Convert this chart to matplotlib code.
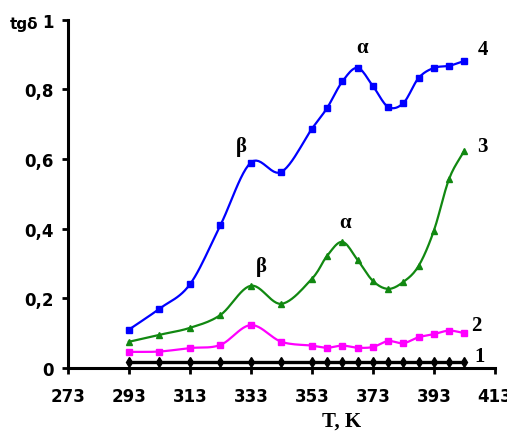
import matplotlib.pyplot as plt
import numpy as np

# temperature points (K)
temp = [293, 303, 313, 323, 333, 343, 353, 358, 363, 368, 373, 378, 383, 388, 393, 398, 403]

# tg delta, curves 1..4
curve1 = [0.017] * 17
curve2 = [0.046, 0.047, 0.057, 0.066, 0.123, 0.075, 0.064, 0.058, 0.064, 0.058,
          0.060, 0.077, 0.071, 0.088, 0.097, 0.107, 0.100]
curve3 = [0.075, 0.095, 0.115, 0.152, 0.236, 0.184, 0.256, 0.322, 0.362, 0.310,
          0.250, 0.227, 0.247, 0.293, 0.394, 0.543, 0.624]
curve4 = [0.11, 0.17, 0.24, 0.41, 0.59, 0.563, 0.687, 0.747, 0.823, 0.862,
          0.81, 0.75, 0.761, 0.833, 0.862, 0.868, 0.882]

xticks = [273, 293, 313, 333, 353, 373, 393, 413]
yticks = [0, 0.2, 0.4, 0.6, 0.8, 1.0]
ylabels = ["0", "0,2", "0,4", "0,6", "0,8", "1"]


def smooth(x, y, n=12):
    # catmull-rom curve through the points, like excel's smoothed line
    x = np.asarray(x, float)
    y = np.asarray(y, float)
    px = np.concatenate([[2 * x[0] - x[1]], x, [2 * x[-1] - x[-2]]])
    py = np.concatenate([[2 * y[0] - y[1]], y, [2 * y[-1] - y[-2]]])
    xs, ys = [], []
    t = np.linspace(0, 1, n, endpoint=False)
    for i in range(1, len(px) - 2):
        for p, out in ((px, xs), (py, ys)):
            p0, p1, p2, p3 = p[i - 1], p[i], p[i + 1], p[i + 2]
            out.extend(0.5 * (2 * p1 + (-p0 + p2) * t
                              + (2 * p0 - 5 * p1 + 4 * p2 - p3) * t ** 2
                              + (-p0 + 3 * p1 - 3 * p2 + p3) * t ** 3))
    xs.append(x[-1])
    ys.append(y[-1])
    return xs, ys


fig = plt.figure(figsize=(5.07, 4.35), dpi=100)
ax = fig.add_axes([0.134, 0.152, 0.842, 0.8])

series = [
    (curve4, "#0000ff", "s", 1.6),
    (curve3, "#118811", "^", 1.6),
    (curve2, "#ff00ff", "s", 1.6),
    (curve1, "black", "d", 2.4),
]
for vals, col, mk, lw in series:
    sx, sy = smooth(temp, vals)
    ax.plot(sx, sy, color=col, lw=lw)
    ax.plot(temp, vals, ls="none", color=col, marker=mk, ms=5)

ax.set_xlim(273, 413)
ax.set_ylim(0, 1)
ax.set_xticks(xticks)
ax.set_xticklabels([str(t) for t in xticks])
ax.set_yticks(yticks)
ax.set_yticklabels(ylabels)

for s in ["top", "right"]:
    ax.spines[s].set_visible(False)
for s in ["left", "bottom"]:
    ax.spines[s].set_linewidth(2.2)
ax.tick_params(direction="out", width=2, length=4, labelsize=12)
for lab in ax.get_xticklabels() + ax.get_yticklabels():
    lab.set_fontweight("bold")
    lab.set_family("Liberation Sans Narrow")
ax.tick_params(axis="y", pad=6)
ax.tick_params(axis="x", pad=10)

serif = dict(family="Liberation Serif", fontweight="bold", fontsize=15,
             ha="center", va="center")
fig.text(10 / 507, 1 - 25 / 435, "tgδ", fontsize=11, fontweight="bold",
         family="Liberation Sans Narrow", va="center")
ax.text(409, 0.917, "4", **serif)
ax.text(409, 0.638, "3", **serif)
ax.text(407, 0.124, "2", **serif)
ax.text(408, 0.034, "1", **serif)
ax.text(369.4, 0.922, "α", **serif)
ax.text(330, 0.638, "β", **serif)
ax.text(336.6, 0.293, "β", **serif)
ax.text(363.8, 0.42, "α", **serif)
fig.text(342 / 507, 1 - 422 / 435, "T, K", **serif)

plt.savefig("out.png", dpi=100)
